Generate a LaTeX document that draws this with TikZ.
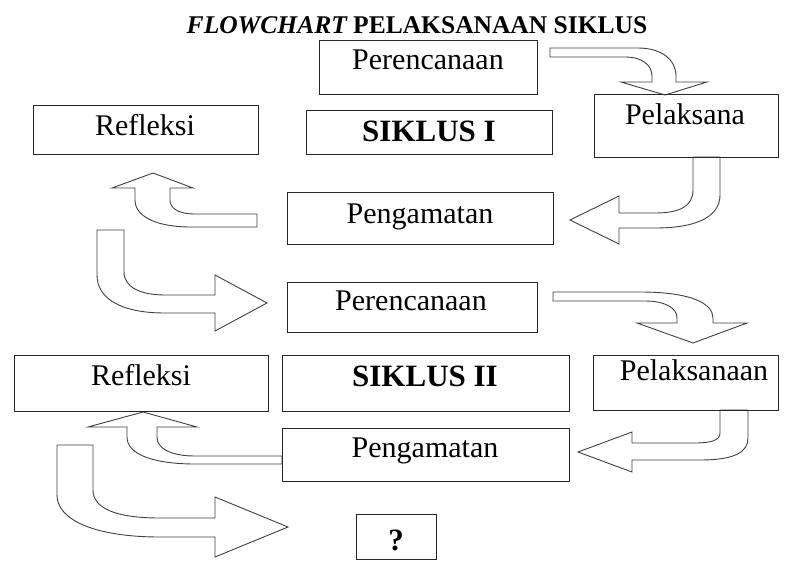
\documentclass[tikz,border=0pt]{standalone}
\usepackage{fontspec}
\setmainfont{Liberation Serif}
\begin{document}
\begin{tikzpicture}[x=1pt,y=-1pt,
  box/.style={draw=black!85,line width=1.2pt,inner sep=0pt,anchor=north west},
  lab/.style={anchor=base,inner sep=0pt,font=\fontsize{30}{30}\selectfont},
  blab/.style={anchor=base,inner sep=0pt,font=\bfseries\fontsize{31}{31}\selectfont},
  barrow/.style={draw=black!75,line width=0.9pt,fill=white,line join=miter}]
\useasboundingbox (0,0) rectangle (787,562);

% title
\node[anchor=base,inner sep=0pt] (title) at (417,33)
  {\fontsize{25.5}{25.5}\selectfont\bfseries\itshape FLOWCHART\upshape{} PELAKSANAAN SIKLUS};

% bent block arrows
% 1: Perencanaan -> Pelaksana
\draw[barrow] (550,48) -- (638,48) .. controls (662,48) and (676,60) .. (676,76) -- (676,82)
  -- (707,82) -- (665,95) -- (621,82) -- (652,82) -- (652,76)
  .. controls (652,65) and (642,57) .. (625,57) -- (550,57) -- cycle;
% 2: Pelaksana -> Pengamatan
\draw[barrow] (693,157) -- (693,190) .. controls (693,206) and (680,213) .. (655,213) -- (619,213)
  -- (619,196) -- (570,220) -- (619,244) -- (619,228) -- (655,228)
  .. controls (700,228) and (720,215) .. (720,195) -- (720,157) -- cycle;
% 3: Pengamatan -> Refleksi
\draw[barrow] (257,214) -- (195,214) .. controls (178,214) and (170,208) .. (170,200) -- (170,188)
  -- (193,188) -- (153,173) -- (112,188) -- (135,188) -- (135,200)
  .. controls (135,218) and (160,227) .. (190,227) -- (257,227) -- cycle;
% 4: Refleksi -> Perencanaan II
\draw[barrow] (97,230) -- (124,230) -- (124,272) .. controls (124,287) and (140,295) .. (165,295)
  -- (215,295) -- (215,275) -- (267,303) -- (215,331) -- (215,313) -- (165,313)
  .. controls (120,313) and (97,298) .. (97,275) -- cycle;
% 5: Perencanaan II -> Pelaksanaan
\draw[barrow] (553,292) -- (640,292) .. controls (690,292) and (713,303) .. (713,318) -- (713,323)
  -- (747,323) -- (693,343) -- (637,323) -- (677,323) -- (677,318)
  .. controls (677,308) and (665,301) .. (645,301) -- (553,301) -- cycle;
% 6: Pelaksanaan -> Pengamatan II
\draw[barrow] (720,410) -- (720,433) .. controls (720,440) and (712,443) .. (695,443) -- (632,443)
  -- (632,432) -- (578,452) -- (632,472) -- (632,460) -- (700,460)
  .. controls (735,460) and (748,452) .. (748,438) -- (748,410) -- cycle;
% 7: Pengamatan II -> Refleksi II
\draw[barrow] (282,456) -- (195,456) .. controls (170,456) and (157,448) .. (157,437) -- (157,427)
  -- (197,427) -- (143,412) -- (88,427) -- (127,427) -- (127,437)
  .. controls (127,455) and (155,464) .. (195,464) -- (282,464) -- cycle;
% 8: Refleksi II -> ?
\draw[barrow] (57,445) -- (93,445) -- (93,490) .. controls (93,508) and (115,518) .. (160,518)
  -- (215,518) -- (215,497) -- (288,527) -- (215,557) -- (215,537) -- (160,537)
  .. controls (95,537) and (57,520) .. (57,495) -- cycle;

% boxes
\node[box,minimum width=218pt,minimum height=54pt] (perc1) at (319,40) {};
\node[box,minimum width=225pt,minimum height=49pt] (ref1) at (33,105) {};
\node[box,minimum width=246pt,minimum height=44pt] (sik1) at (306,110) {};
\node[box,minimum width=184pt,minimum height=63pt] (pel1) at (594,94) {};
\node[box,minimum width=266pt,minimum height=52pt] (pen1) at (287,192) {};
\node[box,minimum width=250pt,minimum height=50pt] (perc2) at (287,282) {};
\node[box,minimum width=254pt,minimum height=56pt] (ref2) at (14,355) {};
\node[box,minimum width=287pt,minimum height=56pt] (sik2) at (282,355) {};
\node[box,minimum width=185pt,minimum height=55pt] (pel2) at (593,355) {};
\node[box,minimum width=287pt,minimum height=53pt] (pen2) at (282,428) {};
\node[box,minimum width=80pt,minimum height=45pt] (q) at (356,514) {};

% labels
\node[lab] (perc1t) at (428,69) {Perencanaan};
\node[lab] (ref1t) at (145,135) {Refleksi};
\node[blab] (sik1t) at (429,141) {SIKLUS I};
\node[lab] (pel1t) at (685,124) {Pelaksana};
\node[lab] (pen1t) at (420,223) {Pengamatan};
\node[lab] (perc2t) at (411,310) {Perencanaan};
\node[lab] (ref2t) at (141,385) {Refleksi};
\node[blab] (sik2t) at (425,386) {SIKLUS II};
\node[lab] (pel2t) at (694,380) {Pelaksanaan};
\node[lab] (pen2t) at (425,457) {Pengamatan};
\node[blab] (qt) at (396,550) {?};
\end{tikzpicture}
\end{document}
